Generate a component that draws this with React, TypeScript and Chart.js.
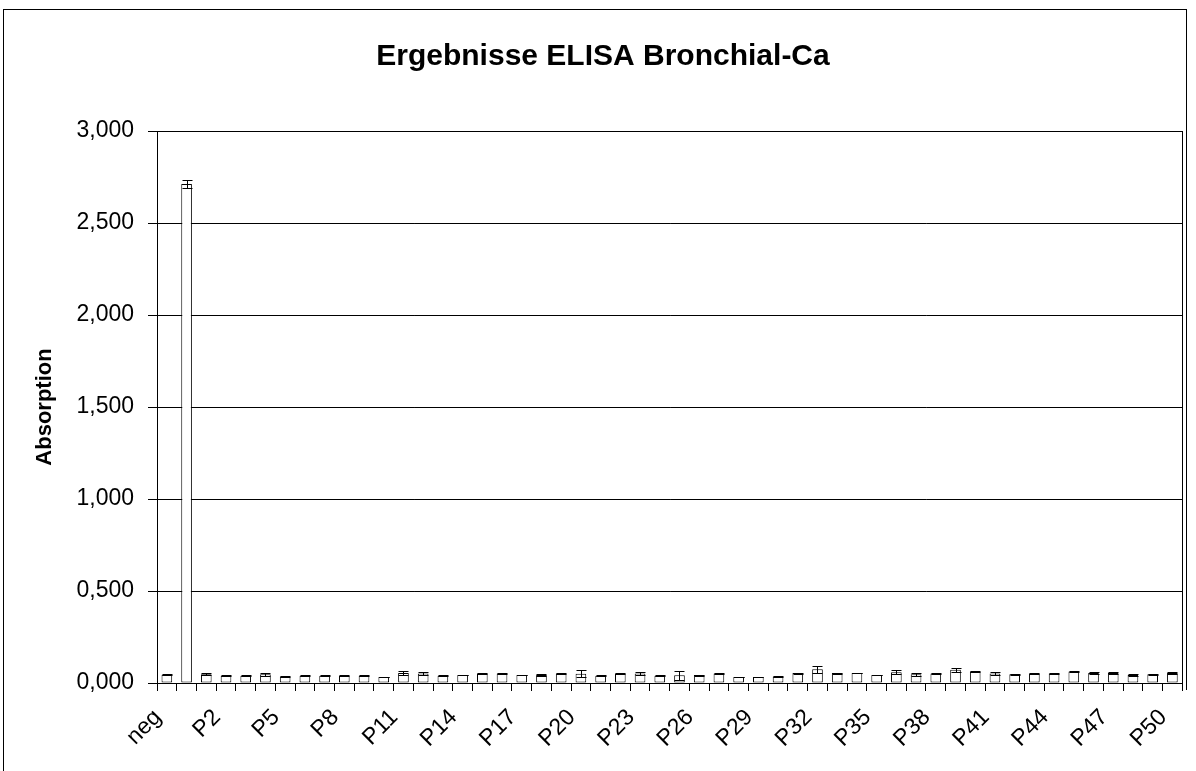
import React, { useEffect, useRef } from 'react';
import { Chart, registerables } from 'chart.js';

Chart.register(...registerables);

const categories = [
  'neg', 'pos', 'P1', 'P2', 'P3', 'P4', 'P5', 'P6', 'P7', 'P8', 'P9', 'P10',
  'P11', 'P12', 'P13', 'P14', 'P15', 'P16', 'P17', 'P18', 'P19', 'P20',
  'P21', 'P22', 'P23', 'P24', 'P25', 'P26', 'P27', 'P28', 'P29', 'P30',
  'P31', 'P32', 'P33', 'P34', 'P35', 'P36', 'P37', 'P38', 'P39', 'P40',
  'P41', 'P42', 'P43', 'P44', 'P45', 'P46', 'P47', 'P48', 'P49', 'P50',
];

const absorption = [
  0.045, 2.712, 0.047, 0.040, 0.040, 0.047, 0.036, 0.040, 0.040, 0.040, 0.040, 0.033,
  0.054, 0.051, 0.040, 0.043, 0.051, 0.051, 0.043, 0.043, 0.051, 0.050,
  0.040, 0.051, 0.052, 0.040, 0.042, 0.043, 0.051, 0.033, 0.033, 0.036,
  0.054, 0.075, 0.054, 0.054, 0.043, 0.058, 0.047, 0.051, 0.072, 0.062,
  0.051, 0.047, 0.051, 0.051, 0.062, 0.054, 0.054, 0.043, 0.047, 0.054,
];

const errors = [
  0.002, 0.020, 0.006, 0.002, 0.002, 0.007, 0.002, 0.002, 0.002, 0.002, 0.002, 0.002,
  0.009, 0.007, 0.003, 0.002, 0.003, 0.004, 0.002, 0.004, 0.004, 0.018,
  0.003, 0.003, 0.008, 0.002, 0.025, 0.003, 0.004, 0.002, 0.002, 0.004,
  0.003, 0.018, 0.003, 0.002, 0.002, 0.010, 0.008, 0.003, 0.012, 0.003,
  0.008, 0.004, 0.002, 0.002, 0.002, 0.005, 0.005, 0.006, 0.003, 0.007,
];

const yMin = 0;
const yMax = 3;
const yStep = 0.5;
const labelEvery = 3;

const titleText = 'Ergebnisse ELISA Bronchial-Ca';
const yTitleText = 'Absorption';

const FONT = '"Liberation Sans", Arial, Helvetica, sans-serif';

export default function App() {
  const ref = useRef<HTMLCanvasElement>(null);

  useEffect(() => {
    if (!ref.current) return;

    const errorBars = {
      id: 'errorBars',
      afterDatasetsDraw(chart: any) {
        const { ctx, chartArea, scales } = chart;
        const y = scales.y;
        const meta = chart.getDatasetMeta(0);
        ctx.save();
        ctx.strokeStyle = '#000';
        ctx.lineWidth = 1;
        meta.data.forEach((bar: any, i: number) => {
          const v = absorption[i];
          const e = errors[i];
          const x = Math.round(bar.x) + 0.5;
          const half = Math.round(bar.width / 2);
          const yt = Math.round(y.getPixelForValue(v + e)) + 0.5;
          const yb = Math.round(y.getPixelForValue(v - e)) + 0.5;
          ctx.beginPath();
          ctx.moveTo(x, yt);
          ctx.lineTo(x, yb);
          ctx.moveTo(x - half, yt);
          ctx.lineTo(x + half, yt);
          ctx.moveTo(x - half, yb);
          ctx.lineTo(x + half, yb);
          ctx.stroke();
        });
        ctx.strokeRect(
          Math.round(chartArea.left) + 0.5,
          Math.round(chartArea.top) + 0.5,
          Math.round(chartArea.right - chartArea.left),
          Math.round(chartArea.bottom - chartArea.top)
        );
        ctx.restore();
      },
    };

    Chart.defaults.color = '#000';
    Chart.defaults.font.family = FONT;

    const chart = new Chart(ref.current, {
      type: 'bar',
      data: {
        labels: categories,
        datasets: [
          {
            label: 'Absorption',
            data: absorption,
            backgroundColor: '#ffffff',
            borderColor: '#000000',
            borderWidth: 1,
            borderSkipped: false,
            categoryPercentage: 1.0,
            barPercentage: 0.54,
          },
        ],
      },
      options: {
        responsive: false,
        animation: false,
        devicePixelRatio: 1,
        layout: { padding: { top: 9, left: 20, right: 10, bottom: 0 } },
        plugins: {
          legend: { display: false },
          tooltip: { enabled: false },
          title: {
            display: true,
            text: titleText,
            color: '#000',
            font: { family: FONT, size: 30, weight: 'bold' },
            padding: { top: 30, bottom: 56 },
          },
        },
        scales: {
          x: {
            type: 'category',
            offset: true,
            grid: {
              display: true,
              drawOnChartArea: false,
              drawTicks: true,
              tickLength: 8,
              color: '#000',
              offset: true,
            },
            border: { display: true, color: '#000', width: 1 },
            ticks: {
              autoSkip: false,
              maxRotation: 45,
              minRotation: 45,
              padding: 4,
              color: '#000',
              font: { family: FONT, size: 23 },
              callback: (_v: any, idx: number) =>
                idx % labelEvery === 0 ? categories[idx] + '  ' : '',
            },
            afterFit: (scale: any) => {
              scale.height = 88;
            },
          },
          y: {
            min: yMin,
            max: yMax,
            grid: {
              color: '#000',
              lineWidth: 1,
              drawTicks: true,
              tickLength: 9,
            },
            border: { display: true, color: '#000', width: 1 },
            ticks: {
              stepSize: yStep,
              padding: 14,
              color: '#000',
              font: { family: FONT, size: 23 },
              callback: (v: any) => Number(v).toFixed(3).replace('.', ','),
            },
            title: {
              display: true,
              text: yTitleText,
              color: '#000',
              font: { family: FONT, size: 22, weight: 'bold' },
              padding: { top: 12, bottom: 0 },
            },
            afterFit: (scale: any) => {
              scale.width = 137;
            },
          },
        },
      },
      plugins: [errorBars],
    });

    return () => chart.destroy();
  }, []);

  return (
    <div
      style={{
        position: 'fixed',
        left: 0,
        top: 0,
        width: 1196,
        height: 771,
        overflow: 'hidden',
        background: '#fff',
      }}
    >
      <canvas ref={ref} width={1196} height={771} style={{ position: 'absolute', left: 0, top: 0 }} />
      <div
        style={{
          position: 'absolute',
          left: 3,
          top: 9,
          width: 1183,
          height: 800,
          borderTop: '1px solid #000',
          borderLeft: '1px solid #000',
          pointerEvents: 'none',
        }}
      />
      <div
        style={{
          position: 'absolute',
          left: 1186,
          top: 9,
          width: 1,
          height: 681,
          background: '#000',
          pointerEvents: 'none',
        }}
      />
    </div>
  );
}
